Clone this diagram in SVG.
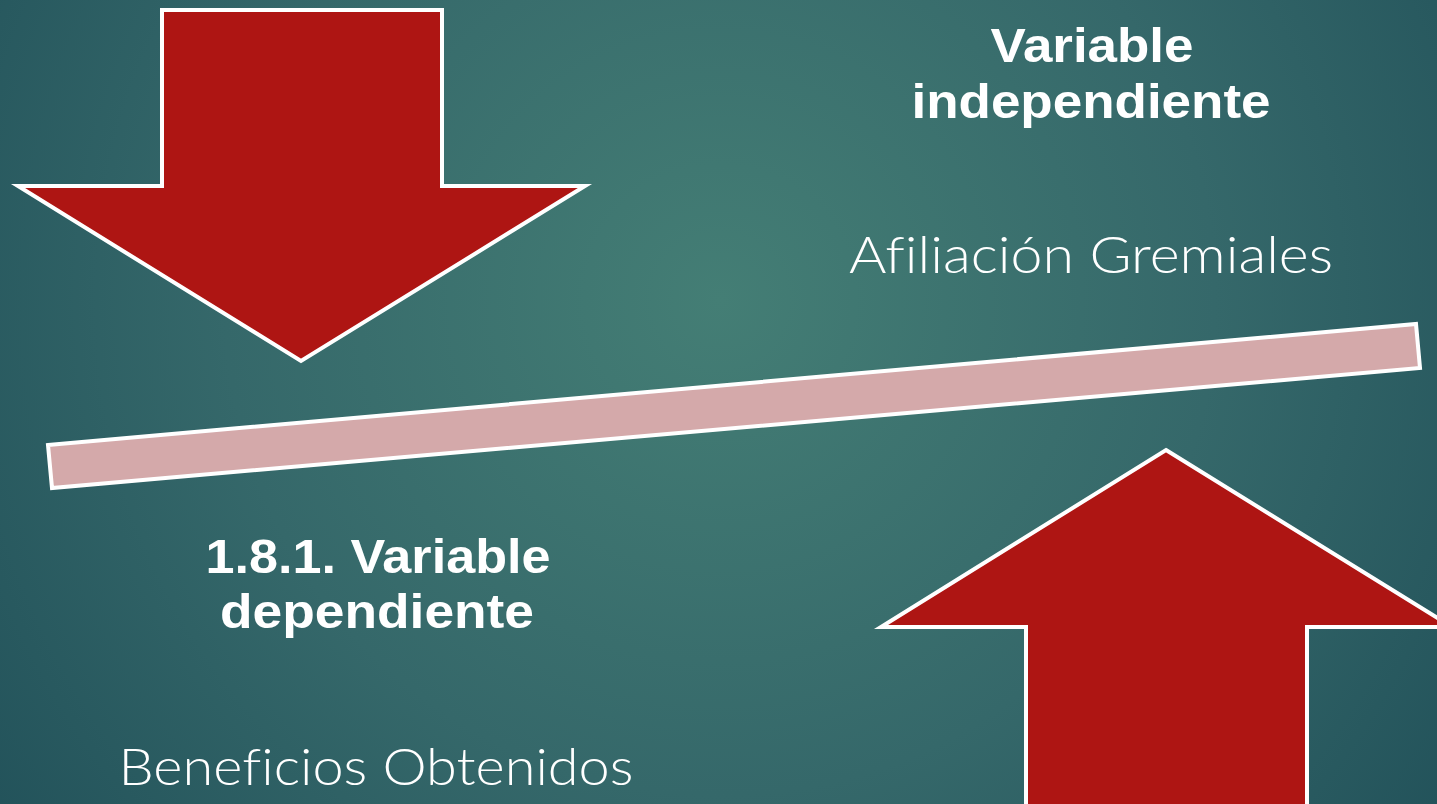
<svg xmlns="http://www.w3.org/2000/svg" width="1437" height="804" viewBox="0 0 1437 804">
  <defs>
    <radialGradient id="bg" cx="720" cy="300" r="900" gradientUnits="userSpaceOnUse">
      <stop offset="0" stop-color="#447e75"/>
      <stop offset="0.55" stop-color="#35686a"/>
      <stop offset="1" stop-color="#22525a"/>
    </radialGradient>
  </defs>
  <style>
    .arrow { fill: #ae1513; stroke: #ffffff; stroke-width: 4; stroke-linejoin: miter; }
    .bar { fill: #d4a9aa; stroke: #ffffff; stroke-width: 4; }
    .title { font-family: "Liberation Sans", Arial, sans-serif; font-weight: bold; font-size: 48px; fill: #ffffff; text-anchor: middle; }
    .body { font-family: "Lato", "Liberation Sans", Arial, sans-serif; font-weight: 300; font-size: 51px; fill: #ffffff; text-anchor: middle; font-variant-ligatures: none; }
  </style>
  <rect x="0" y="0" width="1437" height="804" fill="url(#bg)"/>

  <g id="arrow-down">
    <polygon class="arrow" points="162,10 442,10 442,186 585,186 301,361 18,186 162,186"/>
  </g>

  <g id="arrow-up">
    <polygon class="arrow" points="1166,450 1452,627 1307,627 1307,820 1026,820 1026,627 881,627"/>
  </g>

  <g id="balance-bar">
    <polygon class="bar" points="48,445 1416,324 1420,368 52,488"/>
  </g>

  <g id="label-independiente">
    <text class="title" x="1092" y="62" textLength="203" lengthAdjust="spacingAndGlyphs">Variable</text>
    <text class="title" x="1091" y="118" textLength="359" lengthAdjust="spacingAndGlyphs">independiente</text>
  </g>

  <g id="label-afiliacion">
    <text class="body" x="1091" y="273" textLength="484" lengthAdjust="spacingAndGlyphs">Afiliación Gremiales</text>
  </g>

  <g id="label-dependiente">
    <text class="title" x="378" y="573" textLength="345" lengthAdjust="spacingAndGlyphs">1.8.1. Variable</text>
    <text class="title" x="377" y="628" textLength="314" lengthAdjust="spacingAndGlyphs">dependiente</text>
  </g>

  <g id="label-beneficios">
    <text class="body" x="376" y="785" textLength="515" lengthAdjust="spacingAndGlyphs">Beneficios Obtenidos</text>
  </g>

  <g id="connectors"/>
</svg>
